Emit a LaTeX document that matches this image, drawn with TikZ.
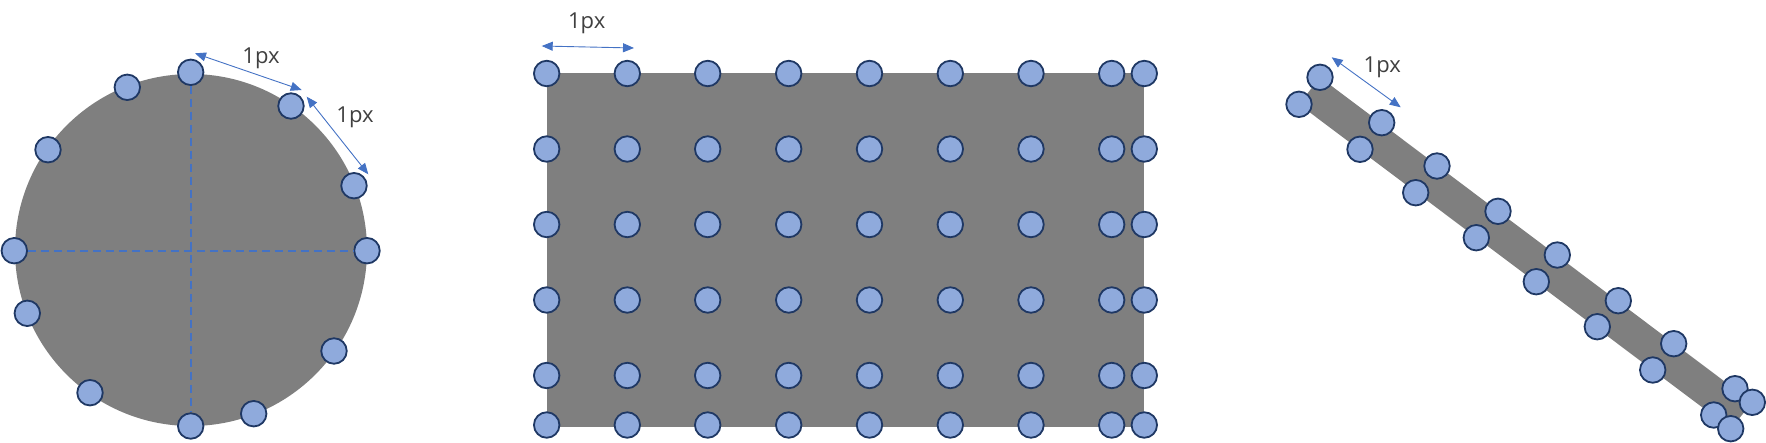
\documentclass[tikz,border=0pt]{standalone}
\usepackage{fontspec}
\setmainfont{Open Sans}
\usetikzlibrary{arrows.meta}
\definecolor{shapegray}{HTML}{7F7F7F}
\definecolor{dotfill}{HTML}{8FAADC}
\definecolor{dotline}{HTML}{1F3864}
\definecolor{dimblue}{HTML}{4472C4}
\definecolor{labelgray}{HTML}{404040}
\tikzset{
  dot/.style={circle, draw=dotline, fill=dotfill, line width=1.8pt, minimum size=25.5pt, inner sep=0pt},
  dimarrow/.style={draw=dimblue, line width=0.9pt, {Triangle[length=11pt,width=9pt]}-{Triangle[length=11pt,width=9pt]}},
  dashline/.style={draw=dimblue, line width=1.8pt, dash pattern=on 8pt off 5pt},
  dimlabel/.style={text=labelgray, font=\fontsize{22}{26}\selectfont, anchor=base, inner sep=0pt},
}
\begin{document}
\begin{tikzpicture}[x=1pt, y=-1pt]
\path[use as bounding box] (0,0) rectangle (1766,442);
% ---- gray shapes
\fill[shapegray] (191,250) circle[radius=176pt];
\fill[shapegray] (546.7,72.7) rectangle (1144,426.7);
\fill[shapegray] (1320,77.3) -- (1752.3,402.3) -- (1730.7,428.7) -- (1299,104.3) -- cycle;
% ---- disk points
\node[dot] (ct) at (190.7,72.3) {};
\node[dot] (c2) at (127.3,87.3) {};
\node[dot] (c3) at (291,106) {};
\node[dot] (c4) at (48,149.7) {};
\node[dot] (c5) at (354,185.7) {};
\node[dot] (cl) at (14.3,250.7) {};
\node[dot] (cr) at (367,250.7) {};
\node[dot] (c8) at (27.3,313.3) {};
\node[dot] (c9) at (334,351) {};
\node[dot] (c10) at (90,392.7) {};
\node[dot] (c11) at (253.7,413.7) {};
\node[dot] (cb) at (190.7,426) {};
% dashed axes
\draw[dashline] (ct) -- (cb);
\draw[dashline] (cl) -- (cr);
% ---- rectangle grid
\foreach \i/\x in {1/546.7,2/627.3,3/707.7,4/788.7,5/869.5,6/950.3,7/1031,8/1111.7,9/1144.3}{
  \foreach \j/\y in {1/73.5,2/149,3/224.5,4/300,5/375.5,6/425}{
    \node[dot] (r-\i-\j) at (\x,\y) {};
  }
}
% ---- strip points
\foreach \k/\x/\y in {1/1320/77.3,2/1381.7/122.7,3/1437/166,4/1498/211.3,5/1557.3/255,6/1618.3/300.7,7/1673.7/343.7,8/1735/388.7,9/1752.3/402.3}{
  \node[dot] (su-\k) at (\x,\y) {};
}
\foreach \k/\x/\y in {1/1299/104.3,2/1360/149.3,3/1415.7/192.7,4/1476.3/237.7,5/1536.3/281.7,6/1597.3/326.7,7/1652.7/370,8/1713.7/415,9/1730.7/428.7}{
  \node[dot] (sl-\k) at (\x,\y) {};
}
% ---- dimension arrows
\coordinate (a1s) at (195,53.3);
\coordinate (a1e) at (301.7,90);
\coordinate (a2s) at (306.7,96.7);
\coordinate (a2e) at (368.3,174.3);
\coordinate (a3s) at (541.7,46);
\coordinate (a3e) at (634,48);
\coordinate (a4s) at (1331.7,57.3);
\coordinate (a4e) at (1400.7,107.3);
\draw[dimarrow] (a1s) -- (a1e);
\draw[dimarrow] (a2s) -- (a2e);
\draw[dimarrow] (a3s) -- (a3e);
\draw[dimarrow] (a4s) -- (a4e);
\node[dimlabel] (l1) at (261,63.3) {1px};
\node[dimlabel] (l2) at (355,122.7) {1px};
\node[dimlabel] (l3) at (586.7,28.3) {1px};
\node[dimlabel] (l4) at (1382.3,72.3) {1px};
\end{tikzpicture}
\end{document}
